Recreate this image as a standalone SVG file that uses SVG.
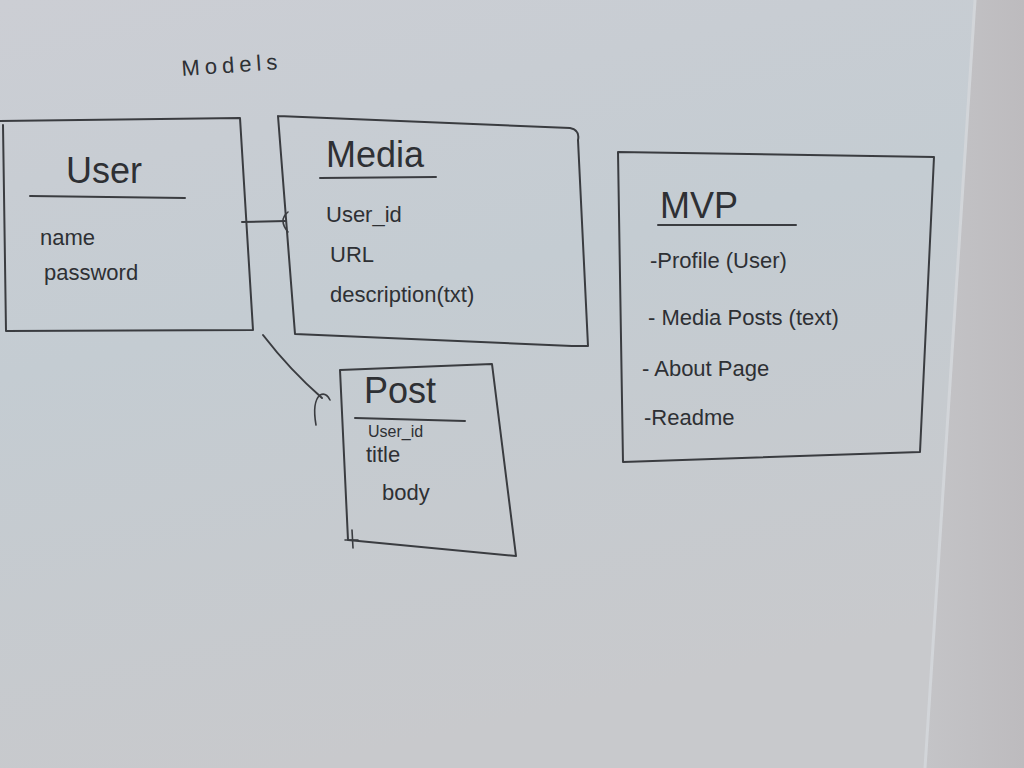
<svg xmlns="http://www.w3.org/2000/svg" width="1024" height="768" viewBox="0 0 1024 768">
  <defs>
    <linearGradient id="board" x1="0" y1="0" x2="0.3" y2="1">
      <stop offset="0" stop-color="#ccced4"/>
      <stop offset="0.45" stop-color="#c4ccd2"/>
      <stop offset="1" stop-color="#c8c9cc"/>
    </linearGradient>
    <linearGradient id="wall" x1="0" y1="0" x2="1" y2="0">
      <stop offset="0" stop-color="#c4c4c7"/>
      <stop offset="1" stop-color="#bdbbbe"/>
    </linearGradient>
  </defs>
  <style>
    .ink { fill: none; stroke: #3a3c40; stroke-width: 2; stroke-linecap: round; stroke-linejoin: round; }
    .thin { stroke-width: 1.6; }
    .title { font-family: "Liberation Sans", "DejaVu Sans", sans-serif; fill: #2e3034; font-size: 36px; }
    .field { font-family: "Liberation Sans", "DejaVu Sans", sans-serif; fill: #2e3034; font-size: 22px; }
    .small { font-family: "Liberation Sans", "DejaVu Sans", sans-serif; fill: #2e3034; font-size: 16px; }
  </style>

  <!-- whiteboard surface and wall edge -->
  <rect x="0" y="0" width="1024" height="768" fill="url(#board)"/>
  <polygon points="975,0 1024,0 1024,768 925,768" fill="url(#wall)"/>
  <line x1="975" y1="0" x2="925" y2="768" stroke="#d2d5d9" stroke-width="3"/>

  <!-- heading -->
  <text class="field" x="182" y="76" font-size="30" letter-spacing="5" transform="rotate(-4 182 76)">Models</text>

  <!-- connectors -->
  <g id="connectors">
    <path class="ink" d="M242,222 L286,221"/>
    <path class="ink thin" d="M288,212 Q278,220 288,232"/>
    <path class="ink" d="M263,335 Q290,370 322,398"/>
    <path class="ink thin" d="M316,425 Q312,402 320,395 Q326,392 330,400"/>
  </g>

  <g id="user">
    <path class="ink" d="M0,121 L240,118 L253,330 L6,331 L3,125"/>
    <text class="title" x="66" y="183">User</text>
    <path class="ink" d="M30,196 L185,198"/>
    <text class="field" x="40" y="245">name</text>
    <text class="field" x="44" y="280">password</text>
  </g>

  <g id="media">
    <path class="ink" d="M278,116 L570,128 Q580,130 578,140 L588,346 L572,346 L295,334 L278,116"/>
    <text class="title" x="326" y="167">Media</text>
    <path class="ink" d="M320,178 L436,177"/>
    <text class="field" x="326" y="222">User_id</text>
    <text class="field" x="330" y="262">URL</text>
    <text class="field" x="330" y="302">description(txt)</text>
  </g>

  <g id="post">
    <path class="ink" d="M340,370 L492,364 L516,556 L348,540 L340,370"/>
    <text class="title" x="364" y="403" font-size="32">Post</text>
    <path class="ink" d="M355,418 L465,421"/>
    <text class="small" x="368" y="437">User_id</text>
    <text class="field" x="366" y="462">title</text>
    <text class="field" x="382" y="500">body</text>
    <path class="ink thin" d="M352,530 L353,548 M345,540 L358,540"/>
  </g>

  <g id="mvp">
    <path class="ink" d="M618,152 L934,157 L920,452 L623,462 L618,152"/>
    <text class="title" x="660" y="218" font-size="44">MVP</text>
    <path class="ink" d="M658,225 L796,225"/>
    <text class="field" x="650" y="268" font-size="26">-Profile (User)</text>
    <text class="field" x="648" y="325" font-size="24">- Media Posts (text)</text>
    <text class="field" x="642" y="376" font-size="24">- About Page</text>
    <text class="field" x="644" y="425" font-size="24">-Readme</text>
  </g>
</svg>
